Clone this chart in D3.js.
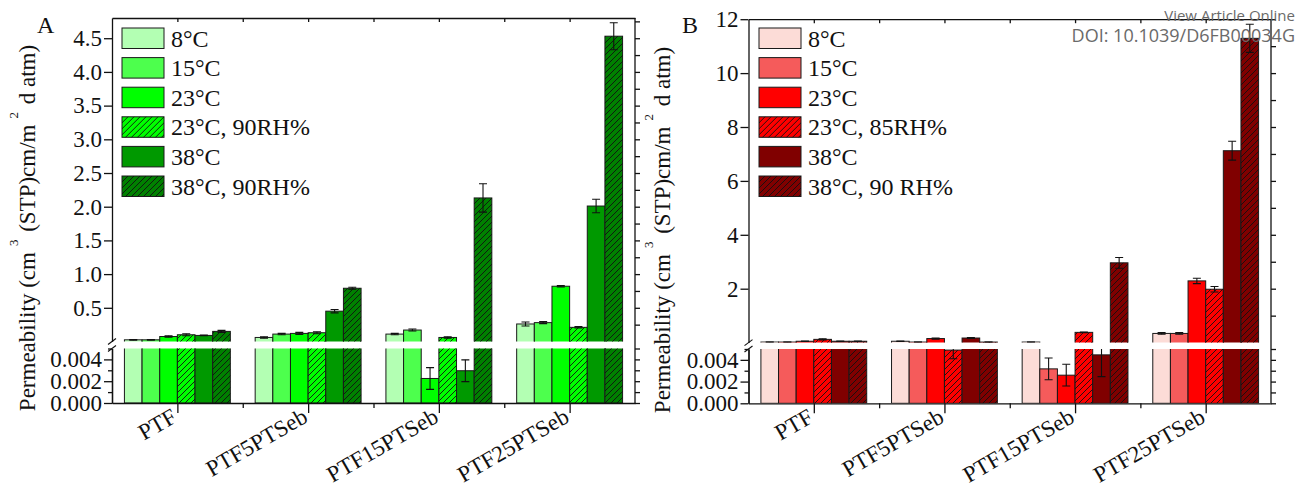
<!DOCTYPE html>
<html>
<head>
<meta charset="utf-8">
<script src="https://cdn.jsdelivr.net/npm/d3@7"></script>
<style>
  body { margin: 0; background: #fff; }
  svg { display: block; font-family: "Liberation Serif", "Times New Roman", serif; }
</style>
</head>
<body>
<svg id="chart" width="1297" height="492"></svg>
<script>
// ---- data ----
const categories = ['PTF', 'PTF5PTSeb', 'PTF15PTSeb', 'PTF25PTSeb'];

const seriesA = ['8°C', '15°C', '23°C', '23°C, 90RH%', '38°C', '38°C, 90RH%'];
const valuesA = [
  [0.025, 0.06, 0.11, 0.26],
  [0.025, 0.11, 0.17, 0.28],
  [0.074, 0.12, 0.00225, 0.82],
  [0.10, 0.13, 0.06, 0.21],
  [0.09, 0.45, 0.00296, 2.01],
  [0.15, 0.79, 2.13, 4.53]
];
const errorsA = [
  [0.005, 0.01, 0.01, 0.03],
  [0.005, 0.01, 0.015, 0.015],
  [0.01, 0.015, 0.001, 0.01],
  [0.015, 0.015, 0.01, 0.01],
  [0.005, 0.025, 0.001, 0.1],
  [0.015, 0.015, 0.21, 0.2]
];

const seriesB = ['8°C', '15°C', '23°C', '23°C, 85RH%', '38°C', '38°C, 90 RH%'];
const valuesB = [
  [0.02, 0.05, 0.02, 0.34],
  [0.02, 0.02, 0.00317, 0.34],
  [0.05, 0.15, 0.00259, 2.29],
  [0.12, 0.0049, 0.38, 1.98],
  [0.05, 0.17, 0.00446, 7.12],
  [0.05, 0.02, 2.96, 11.29]
];
const errorsB = [
  [0.005, 0.01, 0.005, 0.03],
  [0.005, 0.005, 0.001, 0.03],
  [0.01, 0.02, 0.001, 0.1],
  [0.02, 0.0008, 0.01, 0.1],
  [0.01, 0.02, 0.002, 0.35],
  [0.01, 0.005, 0.2, 0.52]
];

const hatched = [false, false, false, true, false, true];
const colorsA = ['#b3ffb3', '#4dff4d', '#00ff00', '#00ff00', '#009900', '#008000'];
const colorsB = ['#fcdcd7', '#f55b5b', '#ff0000', '#ff0000', '#800000', '#800000'];

const upperTicksA = [0.5, 1.0, 1.5, 2.0, 2.5, 3.0, 3.5, 4.0, 4.5];
const upperMinorA = d3.range(0.25, 4.8, 0.25);
const upperTicksB = [2, 4, 6, 8, 10, 12];
const upperMinorB = d3.range(1, 12.5, 1);
const lowerTicks = [0, 0.002, 0.004];
const lowerMinor = [0.001, 0.003, 0.005];
const LOWER_MAX = 0.005;

const svg = d3.select('#chart');
const defs = svg.append('defs');

const hatch = defs.append('pattern')
  .attr('id', 'hatch')
  .attr('patternUnits', 'userSpaceOnUse')
  .attr('width', 6)
  .attr('height', 6);
hatch.append('path')
  .attr('d', 'M0,6 L6,0 M-1.5,1.5 L1.5,-1.5 M4.5,7.5 L7.5,4.5')
  .attr('stroke', '#111')
  .attr('stroke-width', 0.9);

function drawPanel(cfg) {
  const g = svg.append('g');
  const id = cfg.id;

  const xLin = d3.scaleLinear().domain([0.5, categories.length + 0.5]).range([cfg.left, cfg.right]);
  const x = d3.scaleBand().domain(categories).range([cfg.left, cfg.right])
    .paddingInner(0.19).paddingOuter(0.095);
  const xs = d3.scaleBand().domain(d3.range(cfg.series.length)).range([0, x.bandwidth()]);

  const yU = d3.scaleLinear().domain([0, cfg.upperMax]).range([cfg.breakTop, cfg.top]);
  const yL = d3.scaleLinear().domain([0, LOWER_MAX]).range([cfg.bottom, cfg.breakBottom]);

  defs.append('clipPath').attr('id', 'clipU' + id).append('rect')
    .attr('x', cfg.left).attr('y', cfg.top)
    .attr('width', cfg.right - cfg.left).attr('height', cfg.breakTop - cfg.top);
  defs.append('clipPath').attr('id', 'clipL' + id).append('rect')
    .attr('x', cfg.left).attr('y', cfg.breakBottom)
    .attr('width', cfg.right - cfg.left).attr('height', cfg.bottom - cfg.breakBottom);

  const flat = [];
  cfg.values.forEach((row, i) => row.forEach((v, j) => {
    flat.push({ s: i, cat: categories[j], v, e: cfg.errors[i][j] });
  }));

  const gU = g.append('g').attr('clip-path', `url(#clipU${id})`);
  const gL = g.append('g').attr('clip-path', `url(#clipL${id})`);

  const upperBars = flat.filter(d => d.v > LOWER_MAX);

  // lower segment: every bar (tall ones run past the break and get clipped)
  const lowTop = d => d.v > LOWER_MAX ? cfg.breakBottom - 3 : yL(d.v);
  const lowerRect = sel => sel
    .attr('x', d => x(d.cat) + xs(d.s))
    .attr('width', xs.bandwidth())
    .attr('y', lowTop)
    .attr('height', d => cfg.bottom - lowTop(d));
  gL.selectAll('rect.fill').data(flat).join('rect').attr('class', 'fill')
    .call(lowerRect)
    .attr('fill', d => cfg.colors[d.s])
    .attr('stroke', '#1a1a1a').attr('stroke-width', 1);
  gL.selectAll('rect.hatch').data(flat.filter(d => hatched[d.s])).join('rect').attr('class', 'hatch')
    .call(lowerRect)
    .attr('fill', 'url(#hatch)');

  // upper segment
  const upperRect = sel => sel
    .attr('x', d => x(d.cat) + xs(d.s))
    .attr('width', xs.bandwidth())
    .attr('y', d => yU(d.v))
    .attr('height', d => yU(0) - yU(d.v) + 3);
  gU.selectAll('rect.fill').data(upperBars).join('rect').attr('class', 'fill')
    .call(upperRect)
    .attr('fill', d => cfg.colors[d.s])
    .attr('stroke', '#1a1a1a').attr('stroke-width', 1);
  gU.selectAll('rect.hatch').data(upperBars.filter(d => hatched[d.s])).join('rect').attr('class', 'hatch')
    .call(upperRect)
    .attr('fill', 'url(#hatch)');

  // error bars
  const drawErr = (parent, data, y) => {
    const eg = parent.selectAll('g.err').data(data).join('g').attr('class', 'err')
      .attr('stroke', '#111').attr('stroke-width', 1.1);
    const cx = d => x(d.cat) + xs(d.s) + xs.bandwidth() / 2;
    eg.append('line').attr('x1', cx).attr('x2', cx)
      .attr('y1', d => y(d.v - d.e)).attr('y2', d => y(d.v + d.e));
    eg.append('line').attr('x1', d => cx(d) - 4).attr('x2', d => cx(d) + 4)
      .attr('y1', d => y(d.v + d.e)).attr('y2', d => y(d.v + d.e));
    eg.append('line').attr('x1', d => cx(d) - 4).attr('x2', d => cx(d) + 4)
      .attr('y1', d => y(d.v - d.e)).attr('y2', d => y(d.v - d.e));
  };
  drawErr(gU, upperBars, yU);
  drawErr(gL, flat.filter(d => d.v <= LOWER_MAX), yL);

  // axes
  const styleAxis = a => {
    a.selectAll('path, line').attr('stroke', '#111').attr('stroke-width', 1.3);
    a.selectAll('text').attr('font-family', '"Liberation Serif", serif')
      .attr('font-size', 23).attr('fill', '#111');
  };

  g.append('g').attr('transform', `translate(${cfg.left},0)`)
    .call(d3.axisLeft(yU).tickValues(cfg.upperTicks).tickFormat(cfg.upperFmt)
      .tickSize(8).tickSizeOuter(0).tickPadding(2))
    .call(styleAxis);
  g.append('g').attr('transform', `translate(${cfg.left},0)`)
    .call(d3.axisLeft(yL).tickValues(lowerTicks).tickFormat(d3.format('.3f'))
      .tickSize(8).tickSizeOuter(0).tickPadding(2))
    .call(styleAxis);
  g.append('g').attr('transform', `translate(${cfg.left},0)`)
    .call(d3.axisLeft(yL).tickValues(lowerMinor).tickFormat('').tickSize(4).tickSizeOuter(0))
    .call(styleAxis);

  // right side: inward ticks, continuous line
  [[yU, cfg.upperMinor], [yL, lowerMinor.concat(lowerTicks)]].forEach(([sc, tv]) => {
    g.append('g').attr('transform', `translate(${cfg.right},0)`)
      .call(d3.axisLeft(sc).tickValues(tv).tickFormat('').tickSize(-5).tickSizeOuter(0))
      .call(styleAxis)
      .select('.domain').remove();
  });
  g.append('line').attr('x1', cfg.right).attr('x2', cfg.right)
    .attr('y1', cfg.top).attr('y2', cfg.bottom)
    .attr('stroke', '#111').attr('stroke-width', 1.3);

  // bottom + top axes
  const catIdx = d3.range(1, categories.length + 1);
  const midIdx = d3.range(1.5, categories.length, 1);
  g.append('g').attr('transform', `translate(0,${cfg.bottom})`)
    .call(d3.axisBottom(xLin).tickValues(catIdx).tickFormat('').tickSize(10).tickSizeOuter(0))
    .call(styleAxis);
  g.append('g').attr('transform', `translate(0,${cfg.bottom})`)
    .call(d3.axisBottom(xLin).tickValues(midIdx).tickFormat('').tickSize(5).tickSizeOuter(0))
    .call(styleAxis).select('.domain').remove();
  g.append('g').attr('transform', `translate(0,${cfg.top})`)
    .call(d3.axisTop(xLin).tickValues(catIdx.concat(midIdx)).tickFormat('').tickSize(-4).tickSizeOuter(0))
    .call(styleAxis);

  g.selectAll('text.xlab').data(categories).join('text').attr('class', 'xlab')
    .attr('transform', (d, i) => `translate(${xLin(i + 1) + 1},${cfg.bottom + 18}) rotate(-30)`)
    .attr('text-anchor', 'end')
    .attr('font-size', 23)
    .attr('fill', '#111')
    .text(d => d);

  // break marks on the left axis
  const bm = g.append('g').attr('stroke', '#111').attr('stroke-width', 1.1);
  [cfg.breakTop, cfg.breakBottom].forEach(yy => {
    bm.append('line').attr('x1', cfg.left - 4).attr('x2', cfg.left + 4)
      .attr('y1', yy + 3).attr('y2', yy - 3);
  });

  // y title
  const yt = g.append('text')
    .attr('transform', `translate(${cfg.titleX},${cfg.titleY}) rotate(-90)`)
    .attr('text-anchor', 'middle')
    .attr('font-size', 23)
    .attr('fill', '#111');
  yt.append('tspan').text('Permeability (cm');
  yt.append('tspan').attr('dx', 6).attr('dy', -17).attr('font-size', 13).text('3');
  yt.append('tspan').attr('dx', 2).attr('dy', 17).text(' (STP)cm/m');
  yt.append('tspan').attr('dx', 6).attr('dy', -17).attr('font-size', 13).text('2');
  yt.append('tspan').attr('dx', 2).attr('dy', 17).text(' d atm)');

  // panel letter
  g.append('text').attr('x', cfg.letterX).attr('y', 33)
    .attr('font-size', 24).attr('fill', '#111').text(cfg.letter);

  // legend
  const lg = g.append('g').attr('transform', `translate(${cfg.legendX},28)`);
  const row = lg.selectAll('g').data(cfg.series).join('g')
    .attr('transform', (d, i) => `translate(0,${i * 29.6})`);
  row.append('rect').attr('width', 42).attr('height', 20.5)
    .attr('fill', (d, i) => cfg.colors[i])
    .attr('stroke', '#1a1a1a').attr('stroke-width', 1);
  row.filter((d, i) => hatched[i]).append('rect').attr('width', 42).attr('height', 20.5)
    .attr('fill', 'url(#hatch)');
  row.append('text').attr('x', 49).attr('y', 18.5)
    .attr('font-size', 24).attr('fill', '#111')
    .text(d => d);
}

drawPanel({
  id: 'A', letter: 'A', letterX: 37,
  left: 112, right: 635, top: 18, bottom: 403,
  breakTop: 341.5, breakBottom: 348.5,
  upperMax: 4.8, upperTicks: upperTicksA, upperMinor: upperMinorA, upperFmt: d3.format('.1f'),
  series: seriesA, values: valuesA, errors: errorsA, colors: colorsA,
  legendX: 122, titleX: 35, titleY: 228
});

drawPanel({
  id: 'B', letter: 'B', letterX: 682,
  left: 748.5, right: 1271, top: 19.2, bottom: 403.3,
  breakTop: 342.6, breakBottom: 349,
  upperMax: 12, upperTicks: upperTicksB, upperMinor: upperMinorB, upperFmt: d3.format('d'),
  series: seriesB, values: valuesB, errors: errorsB, colors: colorsB,
  legendX: 759, titleX: 670, titleY: 230
});

// publisher stamp
const stamp = svg.append('g').attr('font-family', '"Open Sans", "DejaVu Sans", sans-serif')
  .attr('fill', '#6a6a6a').attr('text-anchor', 'end');
stamp.append('text').attr('x', 1295).attr('y', 21).attr('font-size', 15).text('View Article Online');
stamp.append('text').attr('x', 1295).attr('y', 42).attr('font-size', 18).text('DOI: 10.1039/D6FB00034G');
</script>
</body>
</html>
